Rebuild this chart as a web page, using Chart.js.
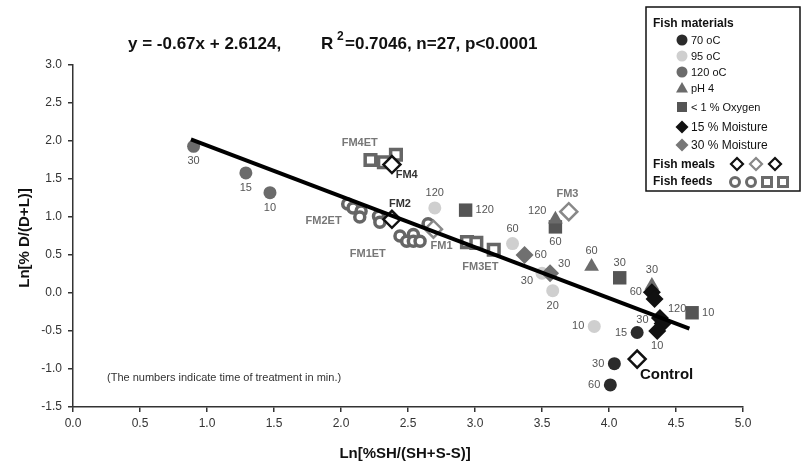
<!DOCTYPE html>
<html>
<head>
<meta charset="utf-8">
<script src="https://cdn.jsdelivr.net/npm/chart.js@4.4.1/dist/chart.umd.min.js"></script>
<style>
  html, body { margin: 0; padding: 0; background: #fff; }
</style>
</head>
<body>
<canvas id="fishChart" width="804" height="465"></canvas>
<script>
// ---- data ----
// Fish materials (labels = treatment time in min)
const c70X = [4.21, 4.04, 4.01];
const c70Y = [-0.52, -0.93, -1.21];
const c70Min = ['15', '30', '60'];

const c95X = [2.70, 3.28, 3.50, 3.58, 3.89];
const c95Y = [1.12, 0.65, 0.26, 0.03, -0.44];
const c95Min = ['120', '60', '30', '20', '10'];

const c120X = [0.90, 1.29, 1.47];
const c120Y = [1.93, 1.58, 1.32];
const c120Min = ['30', '15', '10'];

const ph4X = [3.60, 3.87, 4.32];
const ph4Y = [0.97, 0.35, 0.10];
const ph4Min = ['120', '60', '30'];

const oxyX = [2.93, 3.60, 4.08, 4.62];
const oxyY = [1.09, 0.87, 0.20, -0.26];
const oxyMin = ['120', '60', '30', '10'];

const m15X = [4.32, 4.34, 4.38, 4.40, 4.36];
const m15Y = [0.01, -0.08, -0.33, -0.40, -0.50];
const m15Min = ['60', '', '120', '30', '10'];

const m30X = [3.37, 3.56];
const m30Y = [0.50, 0.26];
const m30Min = ['60', '30'];

// Fish meals (open diamonds)
const mealBlackX = [2.38, 2.38, 4.21];
const mealBlackY = [1.69, 0.97, -0.87];
const mealGrayX = [2.69, 3.70];
const mealGrayY = [0.84, 1.07];

// Fish feeds (open circles / open squares)
const feedCircX = [2.05, 2.09, 2.15, 2.14, 2.28, 2.29, 2.44, 2.49, 2.54, 2.54, 2.59, 2.65];
const feedCircY = [1.17, 1.12, 1.08, 1.00, 1.01, 0.93, 0.75, 0.68, 0.77, 0.68, 0.68, 0.91];
const feedSqX = [2.22, 2.32, 2.41, 2.94, 3.01, 3.14];
const feedSqY = [1.75, 1.72, 1.82, 0.67, 0.66, 0.57];

// regression line end points
const fitX = [0.88, 4.60];
const fitY = [2.02, -0.47];

// sample names
const nameText = ['FM4ET', 'FM4', 'FM2ET', 'FM2', 'FM1ET', 'FM1', 'FM3ET', 'FM3', 'Control'];
const nameX = [2.14, 2.49, 1.87, 2.44, 2.20, 2.75, 3.04, 3.69, 4.43];
const nameY = [1.97, 1.55, 0.95, 1.17, 0.52, 0.62, 0.34, 1.30, -1.08];

const NARROW = '"Liberation Sans Narrow", "Liberation Sans", Arial, sans-serif';
const SANS = '"Liberation Sans", Arial, sans-serif';

function pts(xs, ys) {
    return xs.map((x, i) => ({x: x, y: ys[i]}));
}

// where each time label sits relative to its point
const labelSide = {
    c70: ['l', 'l', 'l'],
    c95: ['a', 'a', 'bl', 'b', 'l'],
    c120: ['b', 'b', 'b'],
    ph4: ['al', 'a', 'a'],
    oxy: ['r', 'b', 'a', 'r'],
    m15: ['l', 'l', 'ar', 'll', 'b'],
    m30: ['r', 'ar']
};

const timeLabels = {
    id: 'timeLabels',
    afterDatasetsDraw(chart) {
        const ctx = chart.ctx;
        ctx.save();
        ctx.font = '11px ' + NARROW;
        ctx.fillStyle = '#555';
        ctx.textBaseline = 'middle';
        chart.data.datasets.forEach((ds, i) => {
            if (!ds.mins) return;
            const sides = labelSide[ds.key];
            chart.getDatasetMeta(i).data.forEach((el, j) => {
                const t = ds.mins[j];
                if (!t) return;
                let x = el.x, y = el.y, s = sides[j];
                ctx.textAlign = 'center';
                if (s === 'b') y += 15;
                if (s === 'a') y -= 15;
                if (s === 'l') { x -= 10; ctx.textAlign = 'right'; }
                if (s === 'll') { x -= 14; y -= 3; ctx.textAlign = 'right'; }
                if (s === 'r') { x += 10; ctx.textAlign = 'left'; }
                if (s === 'bl') { x -= 9; y += 8; ctx.textAlign = 'right'; }
                if (s === 'al') { x -= 9; y -= 8; ctx.textAlign = 'right'; }
                if (s === 'ar') { x += 8; y -= 9; ctx.textAlign = 'left'; }
                ctx.fillText(t, x, y);
            });
        });
        // sample names
        const xs = chart.scales.x, ys = chart.scales.y;
        nameText.forEach((t, i) => {
            if (t === 'Control') {
                ctx.font = 'bold 15px ' + SANS;
                ctx.fillStyle = '#111';
            } else if (t === 'FM4' || t === 'FM2') {
                ctx.font = 'bold 11px ' + NARROW;
                ctx.fillStyle = '#333';
            } else {
                ctx.font = 'bold 11px ' + NARROW;
                ctx.fillStyle = '#777';
            }
            ctx.textAlign = 'center';
            ctx.fillText(t, xs.getPixelForValue(nameX[i]), ys.getPixelForValue(nameY[i]));
        });
        ctx.restore();
    }
};

function marker(ctx, style, x, y, r, fill, stroke, lw) {
    ctx.beginPath();
    if (style === 'circle') {
        ctx.arc(x, y, r, 0, Math.PI * 2);
    } else if (style === 'rect') {
        ctx.rect(x - r, y - r, 2 * r, 2 * r);
    } else if (style === 'diamond') {
        ctx.moveTo(x, y - r); ctx.lineTo(x + r, y); ctx.lineTo(x, y + r); ctx.lineTo(x - r, y); ctx.closePath();
    } else if (style === 'triangle') {
        ctx.moveTo(x, y - r); ctx.lineTo(x + r, y + r * 0.75); ctx.lineTo(x - r, y + r * 0.75); ctx.closePath();
    }
    ctx.fillStyle = fill;
    ctx.fill();
    if (stroke) {
        ctx.strokeStyle = stroke;
        ctx.lineWidth = lw;
        ctx.stroke();
    }
}

const frame = {
    id: 'frame',
    afterDraw(chart) {
        const ctx = chart.ctx;
        ctx.save();
        // equation
        ctx.fillStyle = '#111';
        ctx.textBaseline = 'middle';
        ctx.textAlign = 'left';
        ctx.font = 'bold 17px ' + SANS;
        ctx.fillText('y = -0.67x + 2.6124,', 128, 44);
        ctx.fillText('R', 321, 44);
        ctx.font = 'bold 12px ' + SANS;
        ctx.fillText('2', 337, 37);
        ctx.font = 'bold 17px ' + SANS;
        ctx.fillText('=0.7046, n=27, p<0.0001', 345, 44);

        // axis titles
        ctx.font = 'bold 15px ' + SANS;
        ctx.textAlign = 'center';
        ctx.fillText('Ln[%SH/(SH+S-S)]', 405, 454);
        ctx.save();
        ctx.translate(25, 238);
        ctx.rotate(-Math.PI / 2);
        ctx.fillText('Ln[% D/(D+L)]', 0, 0);
        ctx.restore();

        // note
        ctx.font = '11px ' + SANS;
        ctx.fillStyle = '#333';
        ctx.textAlign = 'left';
        ctx.fillText('(The numbers indicate time of treatment in min.)', 107, 378);

        // legend box
        ctx.strokeStyle = '#111';
        ctx.lineWidth = 1.5;
        ctx.strokeRect(646, 7, 154, 184);
        ctx.fillStyle = '#111';
        ctx.font = 'bold 12px ' + NARROW;
        ctx.fillText('Fish materials', 653, 24);
        const rows = [
            ['circle', '#2b2b2b', '70 oC', 40, 5.5],
            ['circle', '#cfcfcf', '95 oC', 56, 5.5],
            ['circle', '#6b6b6b', '120 oC', 72, 5.5],
            ['triangle', '#6b6b6b', 'pH 4', 88, 6],
            ['rect', '#555', '< 1 % Oxygen', 107, 5],
            ['diamond', '#111', '15 % Moisture', 127, 6.5],
            ['diamond', '#777', '30 % Moisture', 145, 6.5]
        ];
        rows.forEach(r => {
            marker(ctx, r[0], 682, r[3], r[4], r[1]);
            ctx.fillStyle = '#111';
            ctx.font = (r[2].indexOf('Moisture') > 0 ? '12px ' : '11px ') + NARROW;
            ctx.fillText(r[2], 691, r[3] + 1);
        });
        ctx.font = 'bold 12px ' + NARROW;
        ctx.fillStyle = '#111';
        ctx.fillText('Fish meals', 653, 165);
        ctx.fillText('Fish feeds', 653, 182);
        marker(ctx, 'diamond', 737, 164, 6, '#fff', '#111', 2.2);
        marker(ctx, 'diamond', 756, 164, 6, '#fff', '#888', 2.2);
        marker(ctx, 'diamond', 775, 164, 6, '#fff', '#111', 2.2);
        marker(ctx, 'circle', 735, 182, 4.5, '#fff', '#6b6b6b', 3);
        marker(ctx, 'circle', 751, 182, 4.5, '#fff', '#6b6b6b', 3);
        marker(ctx, 'rect', 767, 182, 4.5, '#fff', '#6b6b6b', 3);
        marker(ctx, 'rect', 783, 182, 4.5, '#fff', '#6b6b6b', 3);
        ctx.restore();
    }
};

function scatterSet(key, xs, ys, mins, style, radius, color) {
    return {
        key: key,
        mins: mins,
        data: pts(xs, ys),
        pointStyle: style,
        pointRadius: radius,
        backgroundColor: color,
        borderColor: color,
        borderWidth: 0
    };
}

function openSet(xs, ys, style, radius, color, lw) {
    return {
        data: pts(xs, ys),
        pointStyle: style,
        pointRadius: radius,
        backgroundColor: '#fff',
        borderColor: color,
        borderWidth: lw
    };
}

const ctx = document.getElementById('fishChart').getContext('2d');
new Chart(ctx, {
    type: 'scatter',
    data: {
        datasets: [
            {
                type: 'line',
                data: pts(fitX, fitY),
                borderColor: '#000',
                borderWidth: 4,
                pointRadius: 0,
                fill: false
            },
            scatterSet('m15', m15X, m15Y, m15Min, 'rectRot', 9, '#111'),
            scatterSet('c70', c70X, c70Y, c70Min, 'circle', 6.5, '#2b2b2b'),
            scatterSet('m30', m30X, m30Y, m30Min, 'rectRot', 9, '#707070'),
            scatterSet('ph4', ph4X, ph4Y, ph4Min, 'triangle', 8.5, '#6b6b6b'),
            scatterSet('oxy', oxyX, oxyY, oxyMin, 'rect', 9.5, '#555'),
            scatterSet('c95', c95X, c95Y, c95Min, 'circle', 6.5, '#cfcfcf'),
            scatterSet('c120', c120X, c120Y, c120Min, 'circle', 6.5, '#6b6b6b'),
            openSet(mealBlackX, mealBlackY, 'rectRot', 8.5, '#111', 2.5),
            openSet(mealGrayX, mealGrayY, 'rectRot', 8.5, '#888', 2.5),
            openSet(feedCircX, feedCircY, 'circle', 5, '#666', 3.5),
            openSet(feedSqX, feedSqY, 'rect', 7.5, '#666', 3.5)
        ]
    },
    options: {
        responsive: false,
        animation: false,
        layout: { padding: { top: 65, right: 61, bottom: 0, left: 0 } },
        plugins: {
            legend: { display: false },
            tooltip: { enabled: false }
        },
        scales: {
            x: {
                type: 'linear',
                min: 0,
                max: 5,
                afterFit: s => { s.height = 58; },
                ticks: {
                    stepSize: 0.5,
                    autoSkip: false,
                    maxRotation: 0,
                    padding: 4,
                    color: '#333',
                    font: { family: NARROW, size: 12 },
                    callback: v => v.toFixed(1)
                },
                grid: { drawOnChartArea: false, tickLength: 5, color: '#333', lineWidth: 1.5 },
                border: { color: '#333', width: 1.5 }
            },
            y: {
                min: -1.5,
                max: 3,
                afterFit: s => { s.width = 73; },
                ticks: {
                    stepSize: 0.5,
                    padding: 6,
                    color: '#333',
                    font: { family: NARROW, size: 12 },
                    callback: v => v.toFixed(1)
                },
                grid: { drawOnChartArea: false, tickLength: 5, color: '#333', lineWidth: 1.5 },
                border: { color: '#333', width: 1.5 }
            }
        }
    },
    plugins: [timeLabels, frame]
});
</script>
</body>
</html>
